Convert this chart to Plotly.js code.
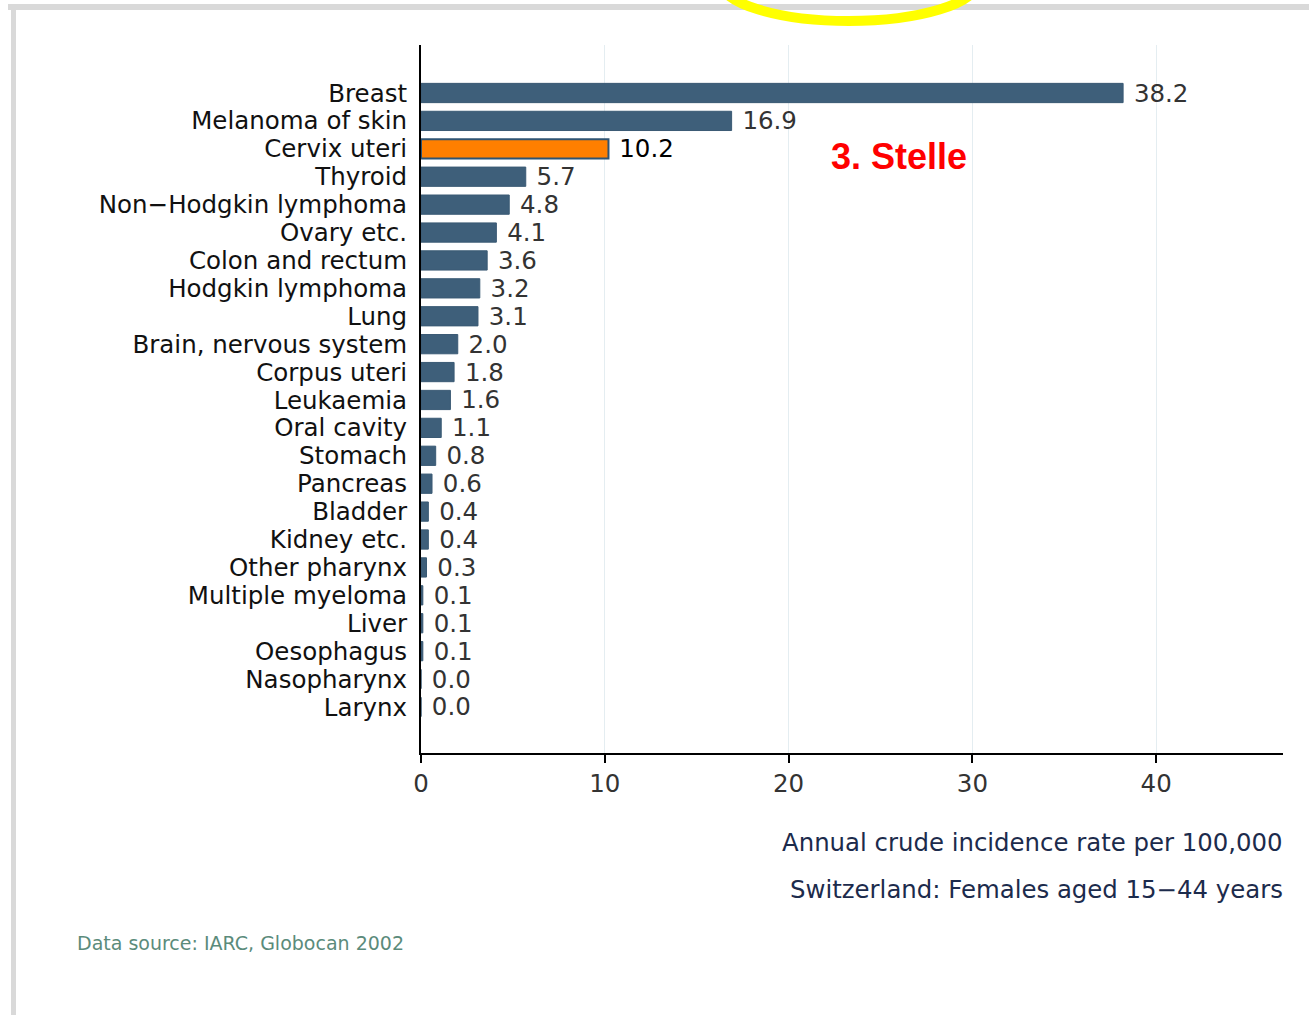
<!DOCTYPE html>
<html>
<head>
<meta charset="utf-8">
<script src="https://cdn.plot.ly/plotly-3.0.1.min.js"></script>
<style>
  html, body { margin: 0; padding: 0; background: #ffffff; }
  #chart { width: 1309px; height: 1015px; }
</style>
</head>
<body>
<div id="chart"></div>
<script>
const categories = [
  "Breast", "Melanoma of skin", "Cervix uteri", "Thyroid", "Non\u2212Hodgkin lymphoma",
  "Ovary etc.", "Colon and rectum", "Hodgkin lymphoma", "Lung", "Brain, nervous system",
  "Corpus uteri", "Leukaemia", "Oral cavity", "Stomach", "Pancreas", "Bladder",
  "Kidney etc.", "Other pharynx", "Multiple myeloma", "Liver", "Oesophagus",
  "Nasopharynx", "Larynx"
];
const rates = [
  38.2, 16.9, 10.2, 5.7, 4.8,
  4.1, 3.6, 3.2, 3.1, 2.0,
  1.8, 1.6, 1.1, 0.8, 0.6, 0.4,
  0.4, 0.3, 0.1, 0.1, 0.1,
  0.0, 0.0
];
const highlighted = "Cervix uteri";
const xTicks = [0, 10, 20, 30, 40];

const W = 1309, H = 1015;
const M = { l: 421, r: 26, t: 45, b: 262 };
const pw = W - M.l - M.r, ph = H - M.t - M.b;
const px2x = px => (px - M.l) / pw;
const py2y = py => (H - M.b - py) / ph;

const barColor = "#3e5f7a";
const hiColor = "#ff7f00";
const font = "DejaVu Sans";
const fs = 24.5;

const trace = {
  type: "bar",
  orientation: "h",
  x: rates,
  y: categories,
  width: 0.69,
  marker: {
    color: categories.map(c => c === highlighted ? hiColor : barColor),
    line: {
      color: categories.map(c => c === highlighted ? "#2f5473" : "#3a5a74"),
      width: categories.map(c => c === highlighted ? 2 : 1)
    }
  },
  texttemplate: "\u00a0%{x:.1f}",
  textposition: "outside",
  constraintext: "none",
  cliponaxis: false,
  textfont: {
    family: font,
    size: fs,
    color: categories.map(c => c === highlighted ? "#000000" : "#333333")
  },
  hoverinfo: "skip"
};

const layout = {
  width: W, height: H,
  margin: M,
  paper_bgcolor: "#ffffff",
  plot_bgcolor: "#ffffff",
  showlegend: false,
  font: { family: font, size: fs, color: "#111111" },
  xaxis: {
    range: [0, 46.9],
    tickmode: "array",
    tickvals: xTicks,
    ticktext: xTicks.map(String),
    showgrid: true,
    gridcolor: "#e4edf1",
    gridwidth: 1,
    zeroline: false,
    showline: true,
    linecolor: "#000000",
    linewidth: 2,
    ticks: "outside",
    ticklen: 8,
    tickwidth: 2,
    tickcolor: "#000000",
    tickfont: { family: font, size: fs, color: "#333333" },
    fixedrange: true
  },
  yaxis: {
    type: "category",
    range: [23.65, -1.72],
    tickmode: "array",
    tickvals: categories,
    ticktext: categories,
    showgrid: false,
    zeroline: false,
    showline: true,
    linecolor: "#000000",
    linewidth: 2,
    ticks: "outside",
    ticklen: 7,
    tickcolor: "rgba(0,0,0,0)",
    tickfont: { family: font, size: fs, color: "#111111" },
    fixedrange: true
  },
  shapes: [
    { type: "rect", xref: "paper", yref: "paper",
      x0: px2x(8), x1: px2x(1309), y0: py2y(10), y1: py2y(4),
      fillcolor: "#d9d9d9", line: { width: 0 }, layer: "above" },
    { type: "rect", xref: "paper", yref: "paper",
      x0: px2x(11), x1: px2x(16), y0: py2y(1015), y1: py2y(4),
      fillcolor: "#d9d9d9", line: { width: 0 }, layer: "above" },
    { type: "circle", xref: "paper", yref: "paper",
      x0: px2x(721), x1: px2x(977), y0: py2y(21), y1: py2y(-57),
      line: { color: "#ffff00", width: 10 }, fillcolor: "rgba(0,0,0,0)", layer: "above" }
  ],
  annotations: [
    { text: "<b>3. Stelle</b>", xref: "paper", yref: "paper",
      x: px2x(899), y: py2y(156), xanchor: "center", yanchor: "middle",
      showarrow: false, font: { family: "Liberation Sans, Arial", size: 36, color: "#ff0000" } },
    { text: "Annual crude incidence rate per 100,000", xref: "paper", yref: "paper",
      x: px2x(1285), y: py2y(842), xanchor: "right", yanchor: "middle",
      showarrow: false, font: { family: font, size: 24.4, color: "#1c2b4c" } },
    { text: "Switzerland: Females aged 15\u221244 years", xref: "paper", yref: "paper",
      x: px2x(1285), y: py2y(889), xanchor: "right", yanchor: "middle",
      showarrow: false, font: { family: font, size: 24.4, color: "#1c2b4c" } },
    { text: "Data source: IARC, Globocan 2002", xref: "paper", yref: "paper",
      x: px2x(75), y: py2y(943), xanchor: "left", yanchor: "middle",
      showarrow: false, font: { family: font, size: 19, color: "#5b8b7b" } }
  ]
};

Plotly.newPlot("chart", [trace], layout, { displayModeBar: false, staticPlot: true });
</script>
</body>
</html>
